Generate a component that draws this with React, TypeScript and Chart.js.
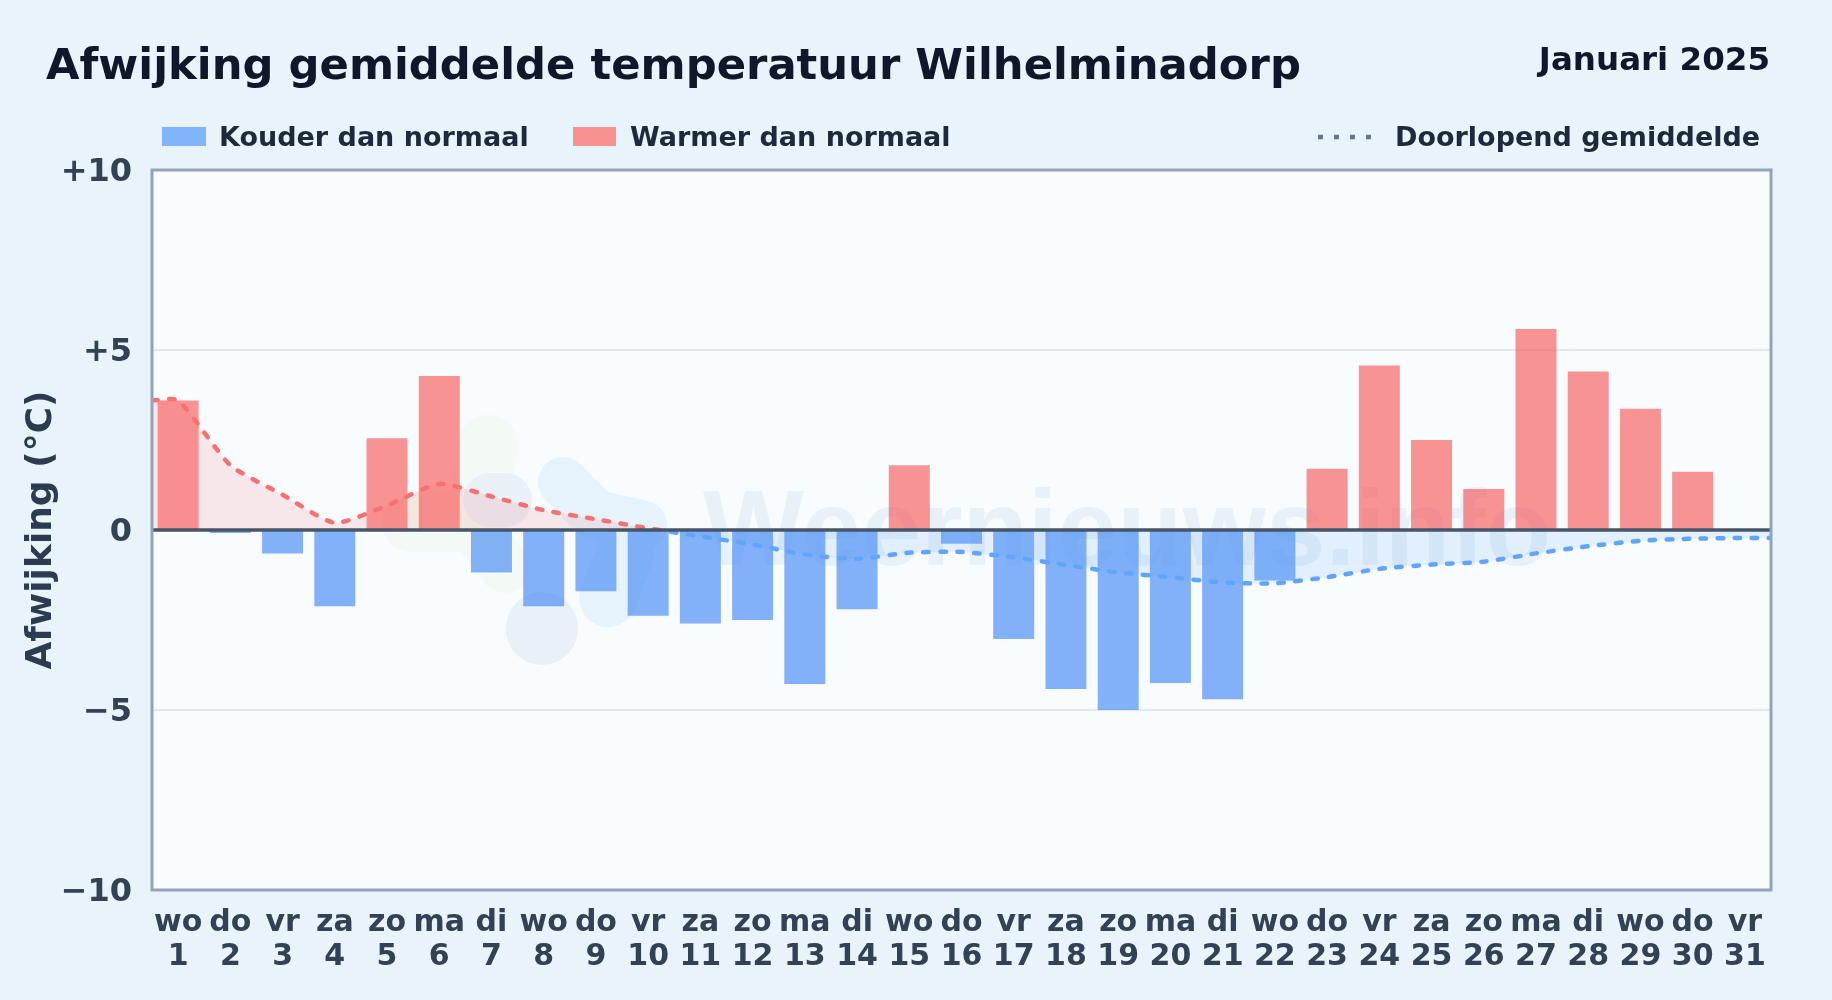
import React, { useEffect, useRef } from "react";
import { Chart, registerables } from "chart.js";

Chart.register(...registerables);

const weekdays = ["wo","do","vr","za","zo","ma","di","wo","do","vr","za","zo","ma","di","wo","do","vr","za","zo","ma","di","wo","do","vr","za","zo","ma","di","wo","do","vr"];
const days = ["1","2","3","4","5","6","7","8","9","10","11","12","13","14","15","16","17","18","19","20","21","22","23","24","25","26","27","28","29","30","31"];
const deviations = [3.6,-0.08,-0.65,-2.12,2.55,4.28,-1.18,-2.12,-1.7,-2.38,-2.6,-2.5,-4.28,-2.2,1.8,-0.38,-3.03,-4.42,-5.0,-4.25,-4.7,-1.4,1.7,4.57,2.5,1.14,5.58,4.4,3.37,1.62,null];
const runningAverage = [3.6,1.8,0.98,0.2,0.68,1.28,0.93,0.55,0.3,0.05,-0.18,-0.4,-0.68,-0.8,-0.63,-0.61,-0.76,-0.97,-1.18,-1.31,-1.46,-1.48,-1.31,-1.08,-0.96,-0.88,-0.65,-0.45,-0.3,-0.24,-0.22];
const yTicks = [10,5,0,-5,-10];

const FONT = '"DejaVu Sans", sans-serif';
const COLD = "rgba(59,130,246,0.62)";
const WARM = "rgba(248,70,70,0.58)";
const LINE_WARM = "#f87171";
const LINE_COLD = "#60a5fa";

const fmt = (v: number) => (v > 0 ? `+${v}` : v < 0 ? `\u2212${Math.abs(v)}` : "0");

const plotDecor = {
  id: "plotDecor",
  beforeDatasetsDraw(chart: any) {
    const { ctx } = chart;
    ctx.save();
    ctx.lineCap = "round";
    ctx.lineJoin = "round";
    const poly = (pts: number[][], w: number, c: string) => {
      ctx.strokeStyle = c;
      ctx.lineWidth = w;
      ctx.beginPath();
      pts.forEach((p, i) => (i ? ctx.lineTo(p[0], p[1]) : ctx.moveTo(p[0], p[1])));
      ctx.stroke();
    };
    const green = "#f3f9f4";
    poly([[488, 445], [480, 490], [470, 522], [412, 522]], 60, green);
    poly([[470, 522], [505, 568]], 50, green);
    const slate = "#e8f0f8";
    poly([[490, 500], [505, 500]], 54, slate);
    poly([[542, 628], [542, 629]], 72, slate);
    const sky = "#e6f3fd";
    poly([[563, 482], [595, 515], [642, 525]], 50, sky);
    poly([[608, 598], [625, 555]], 58, sky);
    ctx.font = `bold 107px "Liberation Sans", sans-serif`;
    ctx.fillStyle = "rgba(100,150,190,0.105)";
    ctx.textBaseline = "alphabetic";
    ctx.textAlign = "left";
    ctx.fillText("Weernieuws.info", 703, 565);
    ctx.restore();
  },
  beforeDraw(chart: any) {
    const { ctx, chartArea: a } = chart;
    ctx.save();
    ctx.fillStyle = "#f8fcff";
    ctx.fillRect(a.left, a.top, a.right - a.left, a.bottom - a.top);
    ctx.restore();
  },
  afterDatasetsDraw(chart: any) {
    const { ctx, chartArea: a, scales } = chart;
    const y0 = scales.y.getPixelForValue(0);
    ctx.save();
    ctx.strokeStyle = "#475569";
    ctx.lineWidth = 3.5;
    ctx.beginPath();
    ctx.moveTo(a.left, y0);
    ctx.lineTo(a.right, y0);
    ctx.stroke();
    ctx.strokeStyle = "#94a3b8";
    ctx.lineWidth = 3;
    ctx.strokeRect(a.left, a.top, a.right - a.left, a.bottom - a.top);
    ctx.restore();
  },
};

const text = (s: React.CSSProperties): React.CSSProperties => ({
  position: "absolute",
  fontFamily: FONT,
  fontWeight: 700,
  lineHeight: 1,
  whiteSpace: "nowrap",
  ...s,
});

export default function App() {
  const ref = useRef<HTMLCanvasElement | null>(null);

  useEffect(() => {
    const lineData = [
      { x: 0.5, y: runningAverage[0] },
      ...runningAverage.map((y, i) => ({ x: i + 1, y })),
      { x: 31.5, y: runningAverage[30] },
    ];
    const chart = new Chart(ref.current as HTMLCanvasElement, {
      type: "bar",
      data: {
        labels: weekdays.map((w, i) => [w, days[i]]),
        datasets: [
          {
            label: "Kouder dan normaal",
            data: deviations.map((v) => (v !== null && v < 0 ? v : null)),
            backgroundColor: COLD,
            grouped: false,
            barPercentage: 0.785,
            categoryPercentage: 1,
            order: 2,
          },
          {
            label: "Warmer dan normaal",
            data: deviations.map((v) => (v !== null && v >= 0 ? v : null)),
            backgroundColor: WARM,
            grouped: false,
            barPercentage: 0.785,
            categoryPercentage: 1,
            order: 2,
          },
          {
            type: "line",
            label: "Doorlopend gemiddelde",
            data: lineData,
            xAxisID: "xLine",
            order: 1,
            pointRadius: 0,
            borderWidth: 4.5,
            borderDash: [5.5, 11.5],
            borderCapStyle: "round",
            tension: 0.2,
            borderColor: (c: any) => {
              const { chart: ch } = c;
              const a = ch.chartArea;
              if (!a) return LINE_WARM;
              const g = ch.ctx.createLinearGradient(0, a.top, 0, a.bottom);
              const stop = (ch.scales.y.getPixelForValue(0) - a.top) / (a.bottom - a.top);
              g.addColorStop(0, LINE_WARM);
              g.addColorStop(stop, LINE_WARM);
              g.addColorStop(stop, LINE_COLD);
              g.addColorStop(1, LINE_COLD);
              return g;
            },
            fill: {
              target: { value: 0 },
              above: "rgba(248,113,113,0.15)",
              below: "rgba(96,165,250,0.15)",
            },
          } as any,
        ],
      },
      options: {
        responsive: false,
        animation: false,
        devicePixelRatio: 1,
        layout: { padding: { top: 170, right: 61, left: 0, bottom: 0 } },
        plugins: { legend: { display: false }, title: { display: false }, tooltip: { enabled: false } },
        scales: {
          x: {
            grid: { display: false, drawTicks: false },
            border: { display: false },
            afterFit: (s: any) => { s.height = 110; },
            ticks: {
              autoSkip: false,
              maxRotation: 0,
              minRotation: 0,
              padding: 16,
              color: "#334155",
              font: { family: FONT, size: 30, weight: "bold", lineHeight: 1.13 },
            },
          },
          xLine: { type: "linear", display: false, offset: false, min: 0.5, max: 31.5 },
          y: {
            min: -10,
            max: 10,
            afterFit: (s: any) => { s.width = 152; },
            afterBuildTicks: (s: any) => { s.ticks = yTicks.map((value) => ({ value })); },
            grid: { color: "#e2e8f0", lineWidth: 2, drawTicks: false },
            border: { display: false },
            title: {
              display: true,
              text: "Afwijking (\u00b0C)",
              color: "#2d3b50",
              font: { family: FONT, size: 36, weight: "bold" },
              padding: { top: 20, bottom: 0 },
            },
            ticks: {
              padding: 20,
              labelOffset: 3,
              color: "#334155",
              font: { family: FONT, size: 32, weight: "bold" },
              callback: (v: any) => fmt(Number(v)),
            },
          },
        },
      },
      plugins: [plotDecor],
    } as any);
    return () => chart.destroy();
  }, []);

  return (
    <div style={{ position: "fixed", left: 0, top: 0, width: 1832, height: 1000, background: "#e8f3fc", overflow: "hidden" }}>
      <canvas ref={ref} width={1832} height={1000} style={{ position: "absolute", left: 0, top: 0, width: 1832, height: 1000 }} />
      <div style={text({ left: 46, top: 42.6, fontSize: 43.3, color: "#0f172a" })}>Afwijking gemiddelde temperatuur Wilhelminadorp</div>
      <div style={text({ right: 62, top: 42.5, fontSize: 32.5, color: "#0f172a" })}>Januari 2025</div>
      <div style={{ position: "absolute", left: 162, top: 127, width: 44, height: 19, background: "#80b5fb" }} />
      <div style={text({ left: 219, top: 123, fontSize: 27, color: "#1e293b" })}>Kouder dan normaal</div>
      <div style={{ position: "absolute", left: 573, top: 127, width: 43, height: 19, background: "#f89090" }} />
      <div style={text({ left: 630, top: 123, fontSize: 27, color: "#1e293b" })}>Warmer dan normaal</div>
      <svg style={{ position: "absolute", left: 1318, top: 134, width: 60, height: 6 }}>
        <line x1="0" y1="3" x2="60" y2="3" stroke="#64748b" strokeWidth="4.5" strokeDasharray="5 11" />
      </svg>
      <div style={text({ left: 1395, top: 123, fontSize: 27, color: "#1e293b" })}>Doorlopend gemiddelde</div>
    </div>
  );
}
